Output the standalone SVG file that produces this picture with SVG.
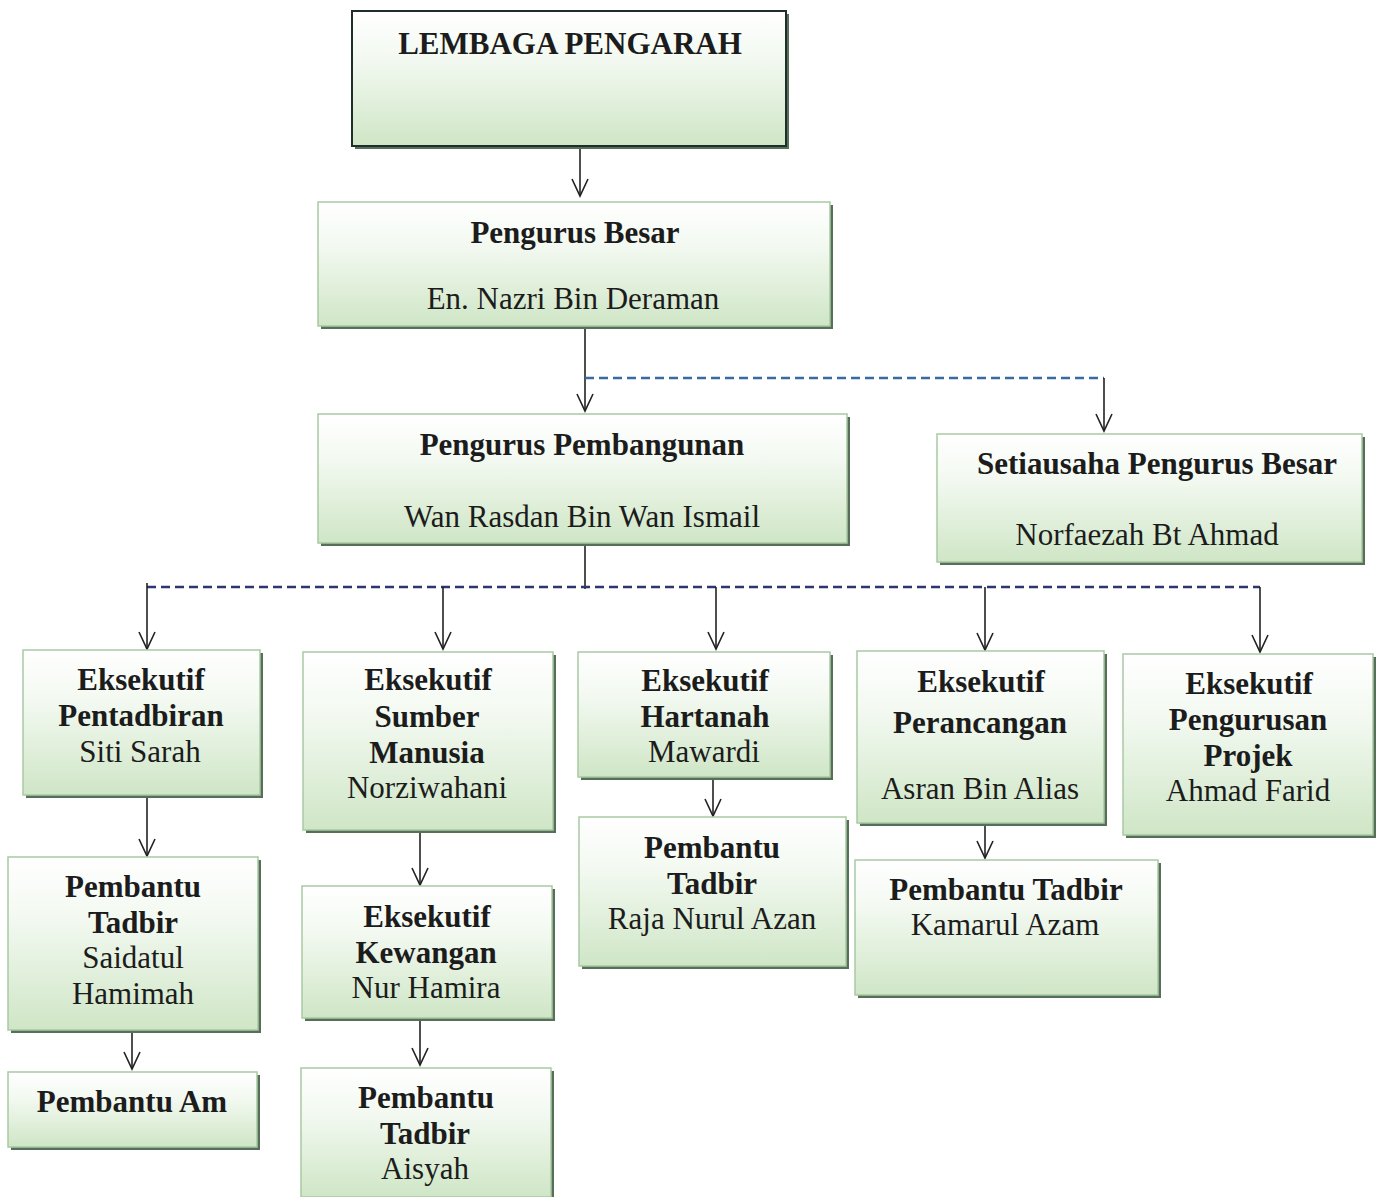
<svg xmlns="http://www.w3.org/2000/svg" width="1377" height="1197" viewBox="0 0 1377 1197">
<style>
.bx{fill:url(#g);stroke:#a9c9a2;stroke-width:1.5}
.bxd{fill:url(#g);stroke:#1f2d2b;stroke-width:2}
.sh{fill:#556f58}
text{font-family:"Liberation Serif","Times New Roman",serif;font-size:31px;fill:#1c1c1c;text-anchor:middle}
.b{font-weight:bold}
.ln{stroke:#222;stroke-width:1.6;fill:none}
.arr{marker-end:url(#ah)}
.d1{stroke:#3a6aa2;stroke-width:2.6;stroke-dasharray:9 5;fill:none}
.d2{stroke:#2f3570;stroke-width:2.6;stroke-dasharray:9 5;fill:none}
</style>
<defs>
<linearGradient id="g" x1="0" y1="0" x2="0" y2="1">
<stop offset="0" stop-color="#ffffff"/>
<stop offset="0.35" stop-color="#f3f9f1"/>
<stop offset="1" stop-color="#cfe6c6"/>
</linearGradient>
<marker id="ah" markerUnits="userSpaceOnUse" markerWidth="22" markerHeight="22" viewBox="-20 -11 22 22" refX="0" refY="0" orient="auto">
<path d="M-17,-8 L0,0 L-17,8" fill="none" stroke="#222" stroke-width="1.6"/>
</marker>
</defs>
<rect width="1377" height="1197" fill="#ffffff"/>

<g id="connectors">
<line class="ln arr" x1="580" y1="146" x2="580" y2="196"/>
<line class="ln arr" x1="585" y1="328" x2="585" y2="411"/>
<path class="d1" d="M585,378 H1104"/>
<line class="ln arr" x1="1104" y1="378" x2="1104" y2="431"/>
<line class="ln" x1="585" y1="543" x2="585" y2="589"/>
<path class="d2" d="M147,587 H1260"/>
<line class="ln arr" x1="147" y1="583" x2="147" y2="649"/>
<line class="ln arr" x1="443" y1="587" x2="443" y2="649"/>
<line class="ln arr" x1="716" y1="587" x2="716" y2="649"/>
<line class="ln arr" x1="985" y1="587" x2="985" y2="650"/>
<line class="ln arr" x1="1260" y1="587" x2="1260" y2="652"/>
<line class="ln arr" x1="147" y1="795" x2="147" y2="856"/>
<line class="ln arr" x1="132" y1="1030" x2="132" y2="1069"/>
<line class="ln arr" x1="420" y1="830" x2="420" y2="885"/>
<line class="ln arr" x1="420" y1="1018" x2="420" y2="1065"/>
<line class="ln arr" x1="713" y1="777" x2="713" y2="816"/>
<line class="ln arr" x1="985" y1="823" x2="985" y2="858"/>
</g>

<g id="lembaga">
<rect class="sh" x="355" y="14" width="434" height="135"/>
<rect class="bxd" x="352" y="11" width="434" height="135"/>
<text class="b" x="570" y="54">LEMBAGA PENGARAH</text>
</g>

<g id="pengurus-besar">
<rect class="sh" x="321" y="205" width="512" height="124"/>
<rect class="bx" x="318" y="202" width="512" height="124"/>
<text class="b" x="575" y="243">Pengurus Besar</text>
<text x="573" y="309">En. Nazri Bin Deraman</text>
</g>

<g id="pengurus-pembangunan">
<rect class="sh" x="321" y="417" width="529" height="129"/>
<rect class="bx" x="318" y="414" width="529" height="129"/>
<text class="b" x="582" y="455">Pengurus Pembangunan</text>
<text x="582" y="527">Wan Rasdan Bin Wan Ismail</text>
</g>

<g id="setiausaha">
<rect class="sh" x="940" y="437" width="425" height="128"/>
<rect class="bx" x="937" y="434" width="425" height="128"/>
<text class="b" x="1157" y="474">Setiausaha Pengurus Besar</text>
<text x="1147" y="545">Norfaezah Bt Ahmad</text>
</g>

<g id="eks-pentadbiran">
<rect class="sh" x="26" y="653" width="237" height="145"/>
<rect class="bx" x="23" y="650" width="237" height="145"/>
<text class="b" x="141" y="690">Eksekutif</text>
<text class="b" x="141" y="726">Pentadbiran</text>
<text x="140" y="762">Siti Sarah</text>
</g>

<g id="eks-sumber-manusia">
<rect class="sh" x="306" y="655" width="250" height="178"/>
<rect class="bx" x="303" y="652" width="250" height="178"/>
<text class="b" x="428" y="690">Eksekutif</text>
<text class="b" x="427" y="727">Sumber</text>
<text class="b" x="427" y="763">Manusia</text>
<text x="427" y="798">Norziwahani</text>
</g>

<g id="eks-hartanah">
<rect class="sh" x="581" y="655" width="252" height="125"/>
<rect class="bx" x="578" y="652" width="252" height="125"/>
<text class="b" x="705" y="691">Eksekutif</text>
<text class="b" x="705" y="727">Hartanah</text>
<text x="704" y="762">Mawardi</text>
</g>

<g id="eks-perancangan">
<rect class="sh" x="860" y="654" width="247" height="172"/>
<rect class="bx" x="857" y="651" width="247" height="172"/>
<text class="b" x="981" y="692">Eksekutif</text>
<text class="b" x="980" y="733">Perancangan</text>
<text x="980" y="799">Asran Bin Alias</text>
</g>

<g id="eks-pengurusan-projek">
<rect class="sh" x="1126" y="657" width="250" height="181"/>
<rect class="bx" x="1123" y="654" width="250" height="181"/>
<text class="b" x="1249" y="694">Eksekutif</text>
<text class="b" x="1248" y="730">Pengurusan</text>
<text class="b" x="1248" y="766">Projek</text>
<text x="1248" y="801">Ahmad Farid</text>
</g>

<g id="pembantu-tadbir-saidatul">
<rect class="sh" x="11" y="860" width="250" height="173"/>
<rect class="bx" x="8" y="857" width="250" height="173"/>
<text class="b" x="133" y="897">Pembantu</text>
<text class="b" x="133" y="933">Tadbir</text>
<text x="133" y="968">Saidatul</text>
<text x="133" y="1004">Hamimah</text>
</g>

<g id="pembantu-am">
<rect class="sh" x="11" y="1075" width="249" height="75"/>
<rect class="bx" x="8" y="1072" width="249" height="75"/>
<text class="b" x="132" y="1112">Pembantu Am</text>
</g>

<g id="eks-kewangan">
<rect class="sh" x="305" y="889" width="250" height="132"/>
<rect class="bx" x="302" y="886" width="250" height="132"/>
<text class="b" x="427" y="927">Eksekutif</text>
<text class="b" x="426" y="963">Kewangan</text>
<text x="426" y="998">Nur Hamira</text>
</g>

<g id="pembantu-tadbir-aisyah">
<rect class="sh" x="304" y="1071" width="250" height="129"/>
<rect class="bx" x="301" y="1068" width="250" height="129"/>
<text class="b" x="426" y="1108">Pembantu</text>
<text class="b" x="425" y="1144">Tadbir</text>
<text x="425" y="1179">Aisyah</text>
</g>

<g id="pembantu-tadbir-raja">
<rect class="sh" x="582" y="820" width="267" height="149"/>
<rect class="bx" x="579" y="817" width="267" height="149"/>
<text class="b" x="712" y="858">Pembantu</text>
<text class="b" x="712" y="894">Tadbir</text>
<text x="712" y="929">Raja Nurul Azan</text>
</g>

<g id="pembantu-tadbir-kamarul">
<rect class="sh" x="858" y="863" width="303" height="135"/>
<rect class="bx" x="855" y="860" width="303" height="135"/>
<text class="b" x="1006" y="900">Pembantu Tadbir</text>
<text x="1005" y="935">Kamarul Azam</text>
</g>
</svg>
